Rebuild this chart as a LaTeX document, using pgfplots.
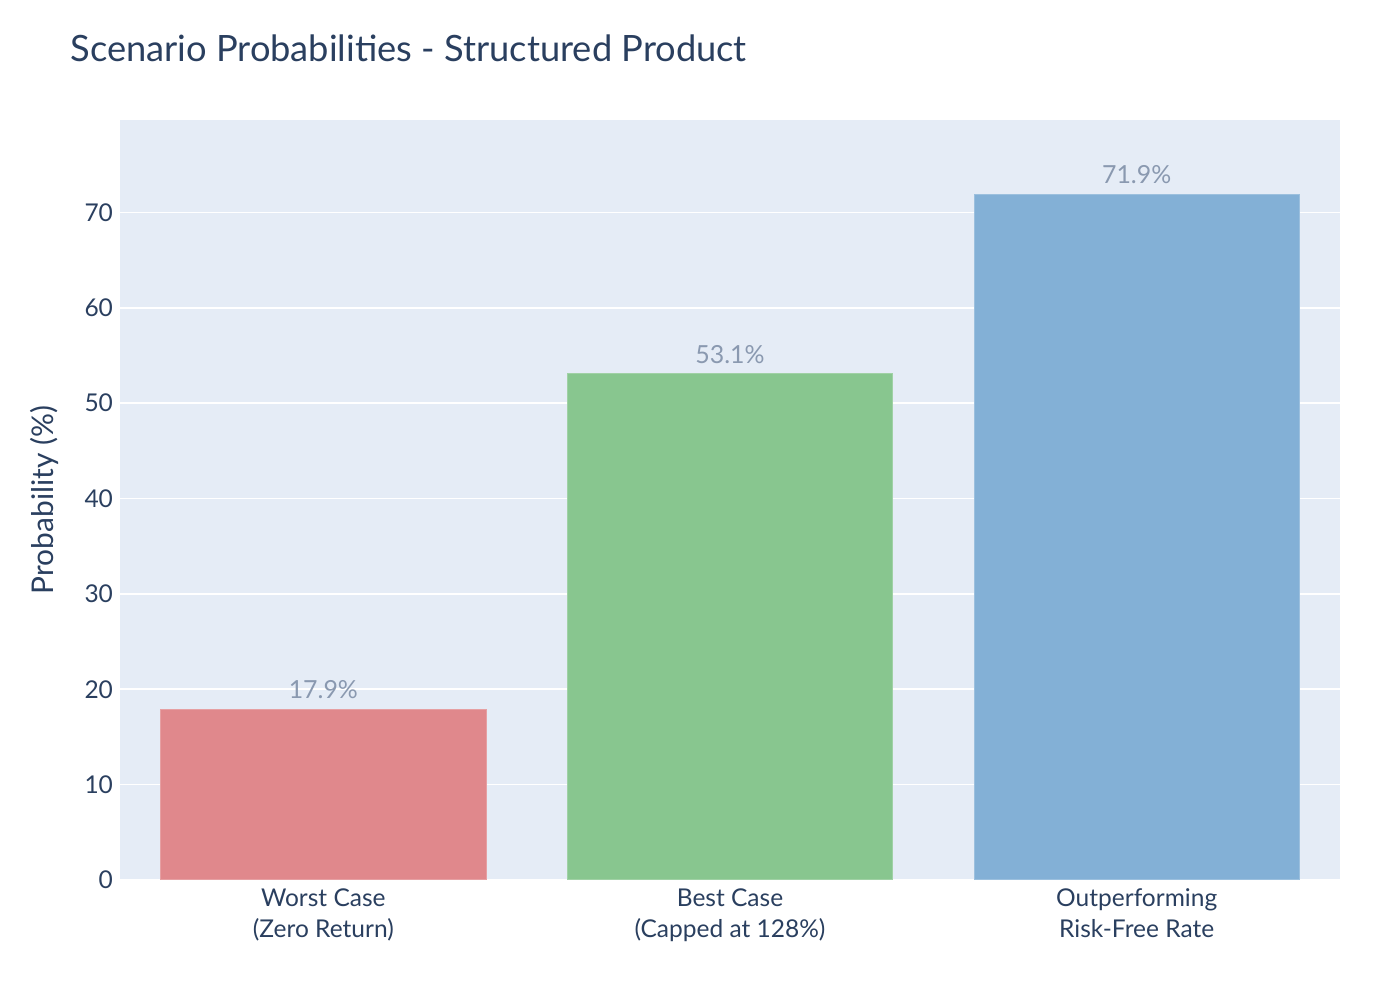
\documentclass[border=0pt]{standalone}
\usepackage{pgfplots}
\pgfplotsset{compat=1.18}
\usepackage{fontspec}
\setmainfont{Lato}
\definecolor{bgplot}{HTML}{E5ECF6}
\definecolor{txt}{HTML}{2A3F5F}
\definecolor{vallbl}{HTML}{8A99B0}
\definecolor{cred}{HTML}{E0888C}
\definecolor{cgreen}{HTML}{88C68F}
\definecolor{cblue}{HTML}{83B0D6}
\begin{document}
\begin{tikzpicture}[x=1bp,y=1bp]
\useasboundingbox (0,0) rectangle (700,500);
\node[anchor=west, inner sep=0pt, text=txt, font=\fontsize{18.2}{21}\selectfont] at (35,476) {Scenario Probabilities - Structured Product};
\node[rotate=90, inner sep=0pt, text=txt, font=\fontsize{15}{18}\selectfont] at (22,250) {Probability (\%)};
\begin{axis}[
  at={(60bp,60bp)}, anchor=south west,
  scale only axis, width=610bp, height=380bp,
  axis background/.style={fill=bgplot},
  axis line style={draw=none},
  xmin=-0.5, xmax=2.5, ymin=0, ymax=79.7,
  ytick={0,10,...,70},
  xtick={0,1,2},
  xticklabels={Worst Case\\(Zero Return), Best Case\\(Capped at 128\%), Outperforming\\Risk-Free Rate},
  xticklabel style={align=center, text=txt, font=\fontsize{12.3}{15.5}\selectfont, yshift=-1bp},
  yticklabel style={text=txt, font=\fontsize{12.3}{14}\selectfont},
  /pgf/number format/assume math mode=true,
  major tick length=0pt,
  ymajorgrids, grid style={white, line width=0.8bp},
  ybar, bar width=0.8, bar shift=0pt,
  enlargelimits=false,
  nodes near coords={\pgfmathprintnumber[fixed,precision=1,fixed zerofill]{\pgfplotspointmeta}\%},
  nodes near coords style={text=vallbl, font=\fontsize{12.5}{14}\selectfont, yshift=1.5bp},
]
\addplot[fill=cred, draw=cred!80!white, line width=0.5bp] coordinates {(0,17.9)};
\addplot[fill=cgreen, draw=cgreen!80!white, line width=0.5bp] coordinates {(1,53.1)};
\addplot[fill=cblue, draw=cblue!80!white, line width=0.5bp] coordinates {(2,71.9)};
\end{axis}
\end{tikzpicture}
\end{document}
